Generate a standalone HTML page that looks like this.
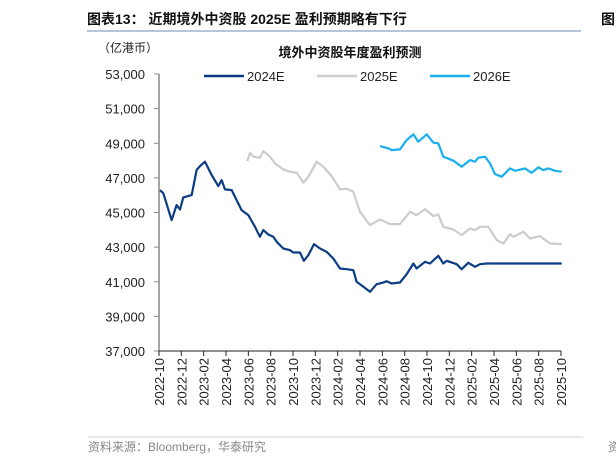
<!DOCTYPE html>
<html><head><meta charset="utf-8">
<style>
body{margin:0;width:616px;height:466px;background:#fff;overflow:hidden;font-family:"Liberation Sans","Noto Sans CJK SC",sans-serif;}
svg{position:absolute;left:0;top:0}
</style></head>
<body>
<svg id="chart" width="616" height="466">
<text x="87" y="24" font-size="14" font-weight="bold" fill="#111">图表13：  近期境外中资股 2025E 盈利预期略有下行</text>
<line x1="87" y1="31" x2="581" y2="31" stroke="#9fb3c8" stroke-width="1.5"/>
<text x="601" y="24" font-size="14" font-weight="bold" fill="#111">图</text>
<text x="98" y="52" font-size="12" fill="#222">（亿港币）</text>
<text x="350" y="57" font-size="13" font-weight="bold" fill="#111" text-anchor="middle">境外中资股年度盈利预测</text>
<g>
<g><line x1="204" y1="76" x2="244" y2="76" stroke="#0c3c83" stroke-width="2.5"/><text x="247" y="81" font-size="13" fill="#222">2024E</text></g>
<g><line x1="317" y1="76" x2="357" y2="76" stroke="#cccccc" stroke-width="2.5"/><text x="360" y="81" font-size="13" fill="#222">2025E</text></g>
<g><line x1="430" y1="76" x2="470" y2="76" stroke="#1ab0ee" stroke-width="2.5"/><text x="473" y="81" font-size="13" fill="#222">2026E</text></g>
</g>
<g id="axes"></g>
<g id="series"></g>
<line x1="88" y1="437" x2="583" y2="437" stroke="#c8d4e0" stroke-width="1"/>
<text x="88" y="451" font-size="12" fill="#888">资料来源：Bloomberg，华泰研究</text>
<text x="608" y="451" font-size="12" fill="#888">资</text>
</svg>
<script>
const yTicks=[37000,39000,41000,43000,45000,47000,49000,51000,53000];
const xTickLabels=["2022-10","2022-12","2023-02","2023-04","2023-06","2023-08","2023-10","2023-12","2024-02","2024-04","2024-06","2024-08","2024-10","2024-12","2025-02","2025-04","2025-06","2025-08","2025-10"];
// months since 2022-10
const m2024=[0.09,0.39,1.13,1.58,1.88,2.18,2.93,3.37,3.67,4.12,4.72,5.31,5.61,5.91,6.51,6.95,7.4,8.0,8.6,9.04,9.34,9.79,10.24,10.54,11.13,11.73,12.03,12.63,12.98,13.37,13.88,14.42,15.01,15.61,16.21,16.81,17.4,17.7,18.3,18.9,19.49,20.09,20.39,20.84,21.58,22.18,22.78,23.07,23.82,24.27,25.01,25.46,25.76,26.66,27.1,27.7,28.3,28.75,29.34,36.06];
const v2024=[46294,46101,44560,45427,45176,45870,46005,47450,47682,47932,47161,46525,46872,46333,46294,45716,45138,44849,44174,43596,43981,43731,43596,43307,42922,42825,42690,42690,42209,42536,43172,42922,42729,42344,41765,41727,41669,40995,40706,40417,40860,40956,41033,40898,40956,41438,42055,41765,42151,42055,42498,42055,42209,42016,41727,42093,41862,42016,42055,42055];
const m2025=[7.91,8.15,8.45,9.04,9.34,9.94,10.39,11.13,11.73,12.33,12.93,13.37,14.12,14.72,15.46,16.21,16.81,17.4,18.0,18.9,19.79,20.69,21.58,22.48,23.07,23.82,24.57,25.01,25.46,26.36,27.1,27.85,28.3,28.75,29.49,30.24,30.84,31.43,31.73,32.63,33.22,34.12,35.01,36.06];
const v2025=[47970,48452,48221,48163,48549,48221,47836,47489,47354,47296,46718,47065,47932,47643,47103,46333,46371,46198,45042,44271,44598,44329,44329,45042,44849,45196,44791,44887,44174,44020,43693,44078,43981,44174,44174,43403,43211,43750,43596,43885,43500,43635,43211,43172];
const m2026=[19.79,20.54,20.84,21.58,22.18,22.78,23.22,23.97,24.57,25.01,25.46,26.36,27.1,27.85,28.3,28.6,29.19,29.64,30.09,30.69,31.43,31.88,32.78,33.37,33.97,34.42,34.87,35.46,36.06];
const v2026=[48838,48703,48606,48645,49185,49512,49088,49512,49030,48992,48221,47990,47643,48028,47932,48163,48221,47836,47219,47065,47547,47411,47547,47296,47604,47450,47547,47411,47354];

const NS="http://www.w3.org/2000/svg";
const X0=159,X1=561,Y0=351,Y1=74;
const xs=m=>X0+(X1-X0)*m/36;
const ys=v=>Y0-(Y0-Y1)*(v-37000)/16000;
function mk(tag,attrs,parent){const e=document.createElementNS(NS,tag);for(const k in attrs)e.setAttribute(k,attrs[k]);parent.appendChild(e);return e;}
const axes=document.getElementById('axes');
const ya=mk('line',{x1:X0,y1:Y1,x2:X0,y2:Y0,stroke:'#888','stroke-width':1.5},axes);


yTicks.forEach(v=>{
  const t=mk('line',{x1:X0-5,y1:ys(v),x2:X0,y2:ys(v),stroke:'#888'},axes);
  
  
  const l=mk('text',{x:X0-14,y:ys(v)+5,'font-size':13,'text-anchor':'end',fill:'#222'},axes);
  l.textContent=v.toLocaleString('en-US');
  
  
});
const xa=mk('line',{x1:X0,y1:Y0,x2:X1,y2:Y0,stroke:'#222','stroke-width':1},axes);


xTickLabels.forEach((s,i)=>{
  const x=xs(i*2);
  const t=mk('line',{x1:x,y1:Y0,x2:x,y2:Y0+5,stroke:'#222'},axes);
  
  
  const l=mk('text',{x:0,y:0,'font-size':13,'text-anchor':'end',fill:'#222',transform:`translate(${x+5},${Y0+7}) rotate(-90)`},axes);
  l.textContent=s;
  
  
});
const series=document.getElementById('series');
function line(ms,vs,color,name){
  const d=ms.map((m,i)=>(i?'L':'M')+xs(m).toFixed(1)+','+ys(vs[i]).toFixed(1)).join('');
  const p=mk('path',{d:d,fill:'none',stroke:color,'stroke-width':2.2,'stroke-linejoin':'round'},series);
  
  
}
line(m2025,v2025,'#cccccc','series-2025e');
line(m2026,v2026,'#1ab0ee','series-2026e');
line(m2024,v2024,'#0c3c83','series-2024e');
</script>
</body></html>
